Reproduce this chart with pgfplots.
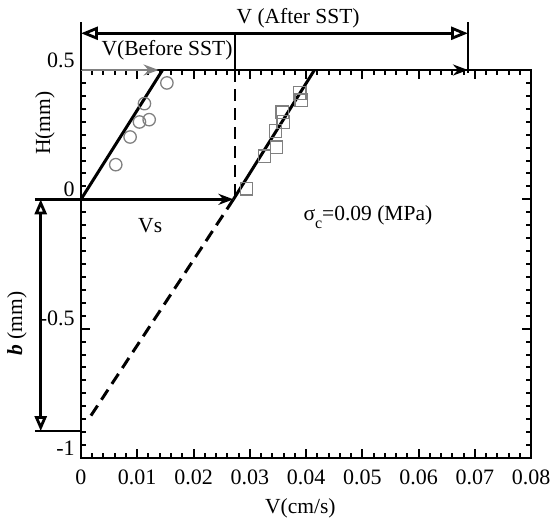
\documentclass[border=0pt]{standalone}
\usepackage{fontspec}
\setmainfont{Liberation Serif}
\usepackage{pgfplots}
\pgfplotsset{compat=1.18}
\usetikzlibrary{arrows.meta}
\begin{document}
\fontsize{21.5}{25}\selectfont
\begin{tikzpicture}
\useasboundingbox (-81pt,-65pt) rectangle (470pt,458pt);
\begin{axis}[
  scale only axis, width=450pt, height=388pt,
  at={(0pt,0pt)}, anchor=south west,
  xmin=0, xmax=0.08, ymin=-1, ymax=0.5,
  clip=false,
  scaled x ticks=false, scaled y ticks=false,
  axis line style={line width=2.5pt},
  every tick/.style={line width=2pt, black},
  major tick length=9pt, minor tick length=5pt,
  tick align=inside,
  xtick={0,0.01,0.02,0.03,0.04,0.05,0.06,0.07,0.08},
  xticklabels={0,0.01,0.02,0.03,0.04,0.05,0.06,0.07,0.08},
  ytick={-1,-0.5,0,0.5},
  yticklabels={-1,-0.5,0,0.5},
  minor x tick num=4, minor y tick num=9,
  tick label style={font=\fontsize{22}{25}\selectfont},
  xticklabel style={yshift=-4pt},
  yticklabel style={yshift=10pt, xshift=1pt},
]
% fit lines
\addplot[black, line width=3pt] coordinates {(0,0) (0.0145,0.5)};
\addplot[black, line width=3pt] coordinates {(0.0271,0) (0.0415,0.5)};
\addplot[black, line width=3pt, dash pattern=on 12pt off 7pt] coordinates {(0.0271,0) (0.0012,-0.855)};
\addplot[black, line width=2.5pt, dash pattern=on 12pt off 7pt] coordinates {(0.0274,0.5) (0.0274,0)};
% data
\addplot[only marks, mark=o, mark size=6.2pt, gray, mark options={line width=1.3pt}] coordinates {
 (0.01527,0.450) (0.01128,0.370) (0.01039,0.299) (0.01212,0.308) (0.00873,0.241) (0.00618,0.134)};
\addplot[only marks, mark=square, mark size=6.2pt, gray, mark options={line width=1.3pt}] coordinates {
 (0.03890,0.411) (0.03915,0.383) (0.03576,0.337) (0.03594,0.299) (0.03457,0.264) (0.03475,0.202) (0.03261,0.167) (0.02940,0.041)};
% arrows and annotations
\draw[gray, line width=2.5pt, -{Stealth[length=15pt,width=11pt]}] (axis cs:0,0.5) -- (axis cs:0.0138,0.5);
\draw[black, line width=2.5pt, -{Stealth[length=15pt,width=11pt]}] (axis cs:0.05,0.5) -- (axis cs:0.0688,0.5);
\draw[black, line width=2pt] (axis cs:0,0.5) -- (axis cs:0,0.684);
\draw[black, line width=2pt] (axis cs:0.0688,0.49) -- (axis cs:0.0688,0.684);
\draw[black, line width=2pt] (axis cs:0.0274,0.5) -- (axis cs:0.0274,0.642);
\draw[black, line width=2.5pt, {Triangle[open,length=17pt,width=13pt,line width=2.8pt]}-{Triangle[open,length=17pt,width=13pt,line width=2.8pt]}] (axis cs:0,0.642) -- (axis cs:0.0688,0.642);
\draw[black, line width=2.5pt, -{Stealth[length=15pt,width=11pt]}] (axis cs:-0.0082,0) -- (axis cs:0.0271,0);
\draw[black, line width=2pt] (axis cs:-0.0082,-0.896) -- (axis cs:0,-0.896);
\draw[black, line width=2.5pt, {Triangle[open,length=15pt,width=12pt,line width=2.8pt]}-{Triangle[open,length=15pt,width=12pt,line width=2.8pt]}] (axis cs:-0.00716,0) -- (axis cs:-0.00716,-0.896);
\node at (axis cs:0.0386,0.70) {V (After SST)};
\node at (axis cs:0.0153,0.576) {V(Before SST)};
\node at (axis cs:0.0123,-0.10) {Vs};
\node at (axis cs:0.0510,-0.07) {σ\raisebox{-8pt}{\fontsize{16}{18}\selectfont c}=0.09 (MPa)};
\node[rotate=90] at (axis cs:-0.0064,0.294) {H(mm)};
\node[rotate=90] at (axis cs:-0.0114,-0.48) {\textbf{\textit{b}} (mm)};
\node at (axis cs:0.039,-1) [yshift=-50pt] {V(cm/s)};
\end{axis}
\end{tikzpicture}
\end{document}
